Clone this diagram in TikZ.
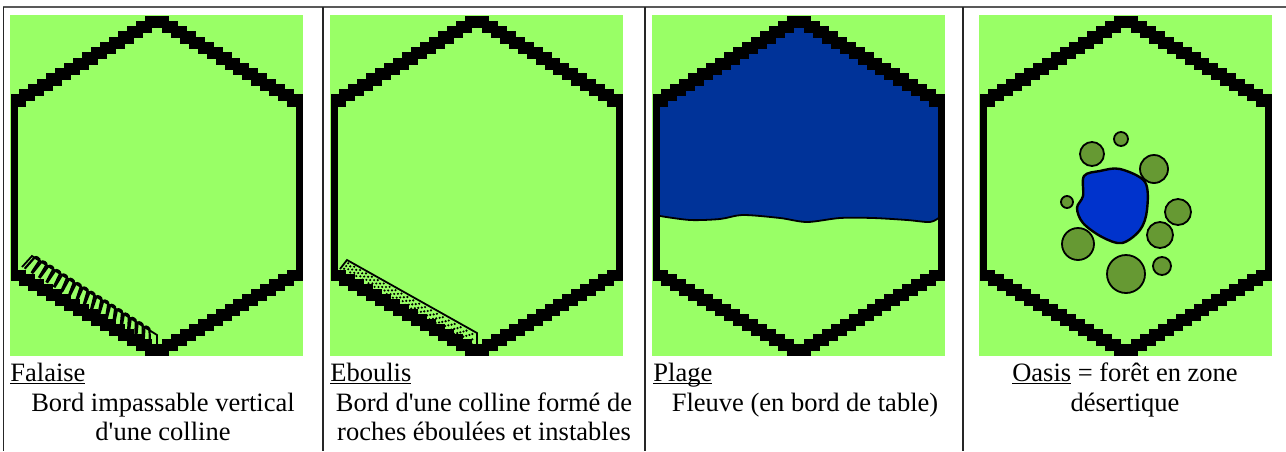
\documentclass[tikz,border=0pt]{standalone}
\usepackage{fontspec}
\setmainfont{Liberation Serif}
\usetikzlibrary{calc}

\definecolor{grass}{RGB}{153,255,102}
\definecolor{river}{RGB}{0,51,153}
\definecolor{pond}{RGB}{0,51,204}
\definecolor{tree}{RGB}{102,153,51}

\newcommand{\term}[1]{\underline{\smash{#1}}}

\begin{document}
\begin{tikzpicture}[x=0.5pt, y=-0.5pt,
    hexline/.style={line width=3.5pt, line join=miter},
    rule/.style={line width=0.8pt, black!85},
    thin edge/.style={line width=0.9pt},
    label/.style={inner sep=0pt, font=\fontsize{13.25}{15}\selectfont},
    title/.style={label, anchor=base west},
    caption/.style={label, anchor=base},
    tree/.style={draw, fill=tree, line width=0.9pt}]
\useasboundingbox (0,0) rectangle (1286,451);

% table frame
\draw[line width=1.1pt, black!65] (3,7) -- (1286,7);
\foreach \x in {3.5,323,645,963}
    \draw[rule] (\x,7) -- (\x,451);

% green tiles
\foreach \x in {10,330,652,979}
    \fill[grass] (\x,15) rectangle +(293,341);

% river in the third tile
\begin{scope}[shift={(652,15)}]
\clip (147,4) -- (289,88) -- (289,258) -- (147,337) -- (4,258) -- (4,88) -- cycle;
\fill[river] (0,0) -- (293,0) -- (293,202)
    -- plot[smooth] coordinates {(288,202) (278,207) (255,205) (221,203) (188,203) (155,207)
        (128,203) (91,200) (68,204) (38,205) (8,201)}
    -- (0,201) -- cycle;
\draw[thin edge] plot[smooth] coordinates {(288,202) (278,207) (255,205) (221,203) (188,203)
    (155,207) (128,203) (91,200) (68,204) (38,205) (8,201)};
\end{scope}

% cliff (falaise)
\coordinate (cliffA) at (22,267);
\coordinate (cliffB) at (32,256);
\coordinate (cliffC) at (157,335);
\coordinate (cliffD) at (157,352);
\foreach \t [evaluate=\t as \u using \t+0.04] in {0.02,0.075,...,0.95}
    \draw[line width=1.1pt] ($(cliffA)!\t!(cliffD)$) -- ($(cliffB)!\t!(cliffC)$)
        to[bend left=80] ($(cliffB)!\u!(cliffC)$) -- ($(cliffA)!\u+0.01!(cliffD)$);
\draw[thin edge] (cliffA) -- (cliffB) -- (cliffC) -- (cliffD);

% scree (eboulis)
\coordinate (screeA) at (340,269);
\coordinate (screeB) at (347,260);
\coordinate (screeC) at (477,333);
\coordinate (screeD) at (477,351);
\foreach \t in {0.02,0.065,...,0.98}
    \foreach \s in {0.2,0.5,0.8}
        \fill ($($(screeB)!\t!(screeC)$)!\s!($(screeA)!\t!(screeD)$)$) circle[radius=1.2];
\foreach \t in {0.043,0.088,...,0.98}
    \foreach \s in {0.35,0.65}
        \fill ($($(screeB)!\t!(screeC)$)!\s!($(screeA)!\t!(screeD)$)$) circle[radius=1.2];
\draw[thin edge] (screeA) -- (screeB) -- (screeC) -- (screeD);

% stepped hex outlines: one staircase stepping out, one stepping in
\foreach \x in {10,330,652,979} {
\begin{scope}[shift={(\x,15)}]
\draw[hexline] (4,258) -- (4,88)
    \foreach \k in {1,...,16} { |- ($(4,88)!\k/16!(147,4)$) }
    \foreach \k in {1,...,16} { -| ($(147,4)!\k/16!(289,88)$) }
    -- (289,258)
    \foreach \k in {1,...,16} { |- ($(289,258)!\k/16!(147,337)$) }
    \foreach \k in {1,...,16} { -| ($(147,337)!\k/16!(4,258)$) }
    -- cycle;
\draw[hexline] (4,258) -- (4,88)
    \foreach \k in {1,...,16} { -| ($(4,88)!\k/16!(147,4)$) }
    \foreach \k in {1,...,16} { |- ($(147,4)!\k/16!(289,88)$) }
    -- (289,258)
    \foreach \k in {1,...,16} { -| ($(289,258)!\k/16!(147,337)$) }
    \foreach \k in {1,...,16} { |- ($(147,337)!\k/16!(4,258)$) }
    -- cycle;
\end{scope}
}

% oasis: pond and trees
\draw[fill=pond, line width=1.2pt] plot[smooth cycle, tension=0.55] coordinates {(1084,176) (1100,171)
    (1120,169) (1145,182) (1147,210) (1140,230) (1122,243) (1102,237) (1083,223) (1077,208) (1083,196)};
\foreach \cx/\cy/\r in {1121/139/7, 1092/154/12, 1154/169/14, 1067/202/6, 1178/212/13,
    1160/235/13, 1078/244/16, 1126/274/19, 1162/266/9}
    \draw[tree] (\cx,\cy) circle[radius=\r];

% captions
\node[title] (falaise) at (10,381) {\term{Falaise}};
\node[caption] (falaise1) at (163,411) {Bord impassable vertical};
\node[caption] (falaise2) at (163,440) {d\textquotesingle une colline};
\node[title] (eboulis) at (330,381) {\term{Eboulis}};
\node[caption] (eboulis1) at (484,411) {Bord d\textquotesingle une colline formé de};
\node[caption] (eboulis2) at (484,440) {roches éboulées et instables};
\node[title] (plage) at (653,381) {\term{Plage}};
\node[caption] (plage1) at (805,411) {Fleuve (en bord de table)};
\node[caption] (oasis) at (1125,381) {\term{Oasis} = forêt en zone};
\node[caption] (oasis1) at (1125,411) {désertique};
\end{tikzpicture}
\end{document}
